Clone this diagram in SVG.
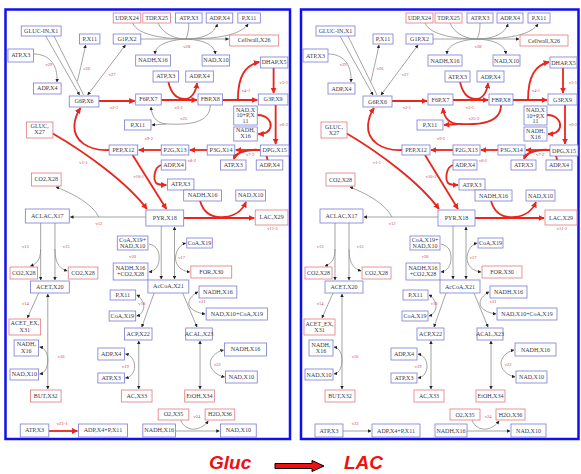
<svg xmlns="http://www.w3.org/2000/svg" width="581" height="474" viewBox="0 0 581 474">
<style>
.b{fill:#fff;stroke:#7b7bd6;stroke-width:0.8}
.r{fill:#fff;stroke:#e07a80;stroke-width:0.8}
.t{font-family:"Liberation Serif",serif;font-size:6px;fill:#3a3a4a;text-anchor:middle}
.lb{font-family:"Liberation Serif",serif;font-size:4.5px;fill:#d04050;text-anchor:middle}
.g{fill:none;stroke:#8e8e8e;stroke-width:0.8;marker-end:url(#ag)}
.gb{fill:none;stroke:#8e8e8e;stroke-width:0.8;marker-start:url(#ag);marker-end:url(#ag)}
.gn{fill:none;stroke:#8e8e8e;stroke-width:0.8}
.rd{fill:none;stroke:#e8261e;stroke-width:1.8;marker-end:url(#ar)}
.rn{fill:none;stroke:#e8261e;stroke-width:1.8}
.frame{fill:#fff;stroke:#1010f0;stroke-width:2.5}
.big{font-family:"Liberation Sans",Arial,sans-serif;font-size:19px;font-weight:bold;font-style:italic;fill:#f01010}
</style>
<defs>
<marker id="ag" viewBox="0 0 10 10" refX="9" refY="5" markerWidth="3.5" markerHeight="3.5" markerUnits="userSpaceOnUse" orient="auto-start-reverse"><path d="M0,0 L10,5 L0,10 z" fill="#222"/></marker>
<marker id="ar" viewBox="0 0 10 10" refX="9" refY="5" markerWidth="6" markerHeight="6" markerUnits="userSpaceOnUse" orient="auto-start-reverse"><path d="M0,0 L10,5 L0,10 z" fill="#e8261e"/></marker>
<g id="common-conn">
<!-- grey -->
<path class="g" d="M28,51 C42,51 52,60 51,79"/>
<path class="g" d="M40,33 L73,92"/>
<path class="gn" d="M48,33 L77,92"/>
<path class="g" d="M71,78 C74,65 77,52 79,42"/>
<path class="gb" d="M118,42 L81,92"/>
<path class="gn" d="M125,20 C130,33 160,36 177,36"/>
<path class="gn" d="M150,20 C155,32 168,36 177,36"/>
<path class="gn" d="M180,20 C180,30 178,34 177,36"/>
<path class="g" d="M177,36 C195,36 205,30 208,21"/>
<path class="g" d="M177,36 C215,36 232,30 238,21"/>
<path class="g" d="M133,36 L219,36"/>
<path class="g" d="M177,36 C160,37 147,42 147,51"/>
<path class="g" d="M177,36 C195,37 205,42 206,51"/>
<path class="g" d="M138,214 L64,214"/>
<path class="g" d="M92,214 C85,200 65,190 50,184"/>
<path class="g" d="M35,220 L35,277"/>
<path class="g" d="M35,246 C35,258 30,261 25,263"/>
<path class="g" d="M49,220 L49,277"/>
<path class="g" d="M49,246 C49,262 55,266 61,268"/>
<path class="g" d="M33,290 L22,315"/>
<path class="gb" d="M42,291 L42,386"/>
<path class="gb" d="M34,344 C40,345 42,352 42,357 C42,363 40,370 34,371"/>
<path class="g" d="M153,223 L153,276"/>
<path class="g" d="M141,241 C150,243 151,250 151,255 C151,262 148,268 141,269"/>
<path class="gb" d="M166,276 L166,224"/>
<path class="gb" d="M177,240 C170,242 167,250 167,255 C167,262 172,268 181,269"/>
<path class="g" d="M146,290 L134,324"/>
<path class="gb" d="M129,292 C133,294 136,300 136,303 C136,308 133,312 129,313"/>
<path class="g" d="M174,290 L188,324"/>
<path class="gb" d="M189,289 C183,292 180,297 180,300 C180,306 188,310 196,311"/>
<path class="gb" d="M131,338 L131,386"/>
<path class="gb" d="M118,351 C124,352 127,358 127,363 C127,369 124,374 118,375"/>
<path class="gb" d="M191,338 L191,386"/>
<path class="gb" d="M214,347 C205,349 201,356 201,360 C201,366 206,372 215,374"/>
<path class="g" d="M167,428 L210,428"/>
<path class="g" d="M172,417 C176,428 190,430 199,418"/>
<!-- red -->
<path class="rd" d="M46,130 C80,150 120,180 139,206"/>
<path class="rd" d="M102,147 C82,148 67,138 68,122 C69,112 72,108 74,105"/>
<path class="rd" d="M92,98 L127,98"/>
<path class="rd" d="M153,97 L188,97"/>
<path class="rd" d="M160,79 C163,92 170,96 176,96 C182,96 187,90 188,80"/>
<path class="rd" d="M213,97 L247,97"/>
<path class="rd" d="M228,97 C228,72 236,62 249,59"/>
<path class="rd" d="M263,65 L263,90"/>
<path class="rd" d="M265,102 L265,141"/>
<path class="rd" d="M247,112 C258,112 261,120 260,124 C259,129 254,131 248,131"/>
<path class="rd" d="M250,147 L226,147"/>
<path class="rd" d="M257,157 C256,148 250,146 242,147 C232,148 226,150 224,156"/>
<path class="rd" d="M198,147 L181,147"/>
<path class="rd" d="M153,147 L131,147"/>
<path class="rd" d="M125,152 L158,206"/>
<path class="rd" d="M153,162 C146,164 145,176 148,180 C150,182 154,182 158,182"/>
<path class="rd" d="M175,215 L244,215"/>
<path class="rd" d="M191,198 C195,212 205,215 215,214 C225,213 232,208 236,199"/>
<!-- labels -->
<text class="lb" x="43" y="63">v29</text>
<text class="lb" x="80" y="67">v26</text>
<text class="lb" x="105" y="73">v27</text>
<text class="lb" x="178" y="45">v28</text>
<text class="lb" x="107" y="106">v2-1</text>
<text class="lb" x="170" y="106">v3-1</text>
<text class="lb" x="236" y="89">v4-1</text>
<text class="lb" x="273" y="81">v5-1</text>
<text class="lb" x="273" y="123">v6-2</text>
<text class="lb" x="240" y="153">v7-2</text>
<text class="lb" x="183" y="159">v8-2</text>
<text class="lb" x="141" y="137">v9-2</text>
<text class="lb" x="131" y="175">v10-1</text>
<text class="lb" x="77" y="161">v1-1</text>
<text class="lb" x="262" y="227">v11-2</text>
<text class="lb" x="92" y="222">v12</text>
<text class="lb" x="20" y="245">v13</text>
<text class="lb" x="60" y="245">v15</text>
<text class="lb" x="20" y="302">v14</text>
<text class="lb" x="55" y="355">v16</text>
<text class="lb" x="125" y="255">v20</text>
<text class="lb" x="173" y="256">v17</text>
<text class="lb" x="134" y="302">v18</text>
<text class="lb" x="193" y="300">v21</text>
<text class="lb" x="118" y="365">v19</text>
<text class="lb" x="208" y="363">v22</text>
<text class="lb" x="188" y="415">v24</text>
</g>
<g id="common-nodes">
<g id="n-udp"><rect class="r" x="106" y="10" width="27" height="10"/><text class="t" x="119.5" y="17">UDP,X24</text></g>
<g id="n-tdp"><rect class="r" x="135" y="10" width="27" height="10"/><text class="t" x="148.5" y="17">TDP,X25</text></g>
<g id="n-atp1"><rect class="b" x="167" y="10" width="26" height="10"/><text class="t" x="180" y="17">ATP,X3</text></g>
<g id="n-adp1"><rect class="b" x="197" y="10" width="26" height="10"/><text class="t" x="210" y="17">ADP,X4</text></g>
<g id="n-p1"><rect class="b" x="228" y="10" width="22" height="10"/><text class="t" x="239" y="17">P,X11</text></g>
<g id="n-gluc"><rect class="b" x="16" y="23" width="39" height="10"/><text class="t" x="35.5" y="30">GLUC-IN,X1</text></g>
<g id="n-p2"><rect class="b" x="73" y="31" width="20" height="10"/><text class="t" x="83" y="38">P,X11</text></g>
<g id="n-g1p"><rect class="b" x="106" y="31" width="27" height="10"/><text class="t" x="119.5" y="38">G1P,X2</text></g>
<g id="n-cell"><rect class="r" x="220" y="32" width="48" height="11"/><text class="t" x="244" y="39.5">Cellwall,X26</text></g>
<g id="n-atp2"><rect class="b" x="3" y="46" width="25" height="13"/><text class="t" x="15.5" y="54.5">ATP,X3</text></g>
<g id="n-nadh1"><rect class="b" x="128" y="52" width="34" height="11"/><text class="t" x="145" y="59.5">NADH,X16</text></g>
<g id="n-nad1"><rect class="b" x="193" y="52" width="27" height="11"/><text class="t" x="206.5" y="59.5">NAD,X10</text></g>
<g id="n-dhap"><rect class="b" x="250" y="54" width="27" height="11"/><text class="t" x="263.5" y="61.5">DHAP,X5</text></g>
<g id="n-adp2"><rect class="b" x="28" y="80" width="27" height="11"/><text class="t" x="41.5" y="87.5">ADP,X4</text></g>
<g id="n-atp3"><rect class="b" x="145" y="68" width="25" height="11"/><text class="t" x="157.5" y="75.5">ATP,X3</text></g>
<g id="n-adp3"><rect class="b" x="177" y="68" width="27" height="11"/><text class="t" x="190.5" y="75.5">ADP,X4</text></g>
<g id="n-g6p"><rect class="b" x="63" y="93" width="29" height="11"/><text class="t" x="77.5" y="100.5">G6P,X6</text></g>
<g id="n-f6p"><rect class="b" x="128" y="91" width="25" height="11"/><text class="t" x="140.5" y="98.5">F6P,X7</text></g>
<g id="n-fbp"><rect class="b" x="189" y="91" width="24" height="11"/><text class="t" x="201" y="98.5">FBP,X8</text></g>
<g id="n-g3p"><rect class="b" x="248" y="91" width="29" height="11"/><text class="t" x="262.5" y="98.5">G3P,X9</text></g>
<g id="n-nadp"><rect class="b" x="224" y="103" width="23" height="19"/><text class="t" x="235.5" y="109">NAD,X<tspan x="235.5" y="114.5">10+P,X</tspan><tspan x="235.5" y="120">11</tspan></text></g>
<g id="n-nadh2"><rect class="b" x="224" y="124" width="23" height="14"/><text class="t" x="235.5" y="129.5">NADH,<tspan x="235.5" y="135.5">X16</tspan></text></g>
<g id="n-p3"><rect class="b" x="117" y="117" width="26" height="10"/><text class="t" x="130" y="124">P,X11</text></g>
<g id="n-glucx"><rect class="r" x="21" y="119" width="26" height="16"/><text class="t" x="34" y="125.5">GLUC,<tspan x="34" y="131.5">X27</tspan></text></g>
<g id="n-pep"><rect class="b" x="102" y="142" width="28" height="10"/><text class="t" x="116" y="149">PEP,X12</text></g>
<g id="n-p2g"><rect class="b" x="153" y="142" width="27" height="10"/><text class="t" x="166.5" y="149">P2G,X13</text></g>
<g id="n-p3g"><rect class="b" x="198" y="142" width="27" height="10"/><text class="t" x="211.5" y="149">P3G,X14</text></g>
<g id="n-dpg"><rect class="b" x="250" y="142" width="28" height="11"/><text class="t" x="264" y="149.5">DPG,X15</text></g>
<g id="n-adp4"><rect class="b" x="153" y="157" width="24" height="10"/><text class="t" x="165" y="164">ADP,X4</text></g>
<g id="n-atp4"><rect class="b" x="211" y="157" width="25" height="10"/><text class="t" x="223.5" y="164">ATP,X3</text></g>
<g id="n-adp5"><rect class="b" x="246" y="157" width="26" height="10"/><text class="t" x="259" y="164">ADP,X4</text></g>
<g id="n-atp5"><rect class="b" x="159" y="176" width="26" height="11"/><text class="t" x="172" y="183.5">ATP,X3</text></g>
<g id="n-nadh3"><rect class="b" x="175" y="187" width="37" height="11"/><text class="t" x="193.5" y="194.5">NADH,X16</text></g>
<g id="n-nad3"><rect class="b" x="226" y="187" width="29" height="11"/><text class="t" x="240.5" y="194.5">NAD,X10</text></g>
<g id="n-co2a"><rect class="r" x="26" y="170" width="29" height="13"/><text class="t" x="40.5" y="178.5">CO2,X28</text></g>
<g id="n-aclac"><rect class="b" x="20" y="206" width="43" height="14"/><text class="t" x="41.5" y="215">ACLAC,X17</text></g>
<g id="n-pyr"><rect class="b" x="138" y="207" width="37" height="16"/><text class="t" x="156.5" y="217">PYR,X18</text></g>
<g id="n-lac"><rect class="r" x="245" y="207" width="32" height="15"/><text class="t" x="261" y="216.5">LAC,X29</text></g>
<g id="n-coanad"><rect class="b" x="110" y="233" width="30" height="14"/><text class="t" x="125" y="238.8">CoA,X19+<tspan x="125" y="244.8">NAD,X10</tspan></text></g>
<g id="n-coa1"><rect class="b" x="178" y="235" width="25" height="10"/><text class="t" x="190.5" y="242">CoA,X19</text></g>
<g id="n-nadhco2"><rect class="b" x="106" y="260" width="34" height="17"/><text class="t" x="123" y="266.8">NADH,X16<tspan x="123" y="273.2">+CO2,X28</tspan></text></g>
<g id="n-for"><rect class="r" x="182" y="263" width="40" height="12"/><text class="t" x="202" y="271">FOR,X30</text></g>
<g id="n-co2b"><rect class="r" x="5" y="264" width="27" height="12"/><text class="t" x="18.5" y="272">CO2,X28</text></g>
<g id="n-co2c"><rect class="r" x="62" y="264" width="29" height="12"/><text class="t" x="76.5" y="272">CO2,X28</text></g>
<g id="n-acet"><rect class="b" x="25" y="278" width="38" height="12"/><text class="t" x="44" y="286">ACET,X20</text></g>
<g id="n-accoa"><rect class="b" x="140" y="277" width="40" height="13"/><text class="t" x="160" y="285.5">AcCoA,X21</text></g>
<g id="n-p4"><rect class="b" x="103" y="287" width="25" height="10"/><text class="t" x="115.5" y="294">P,X11</text></g>
<g id="n-nadh4"><rect class="b" x="190" y="283" width="37" height="12"/><text class="t" x="208.5" y="291">NADH,X16</text></g>
<g id="n-coa2"><rect class="b" x="102" y="308" width="26" height="10"/><text class="t" x="115" y="315">CoA,X19</text></g>
<g id="n-nadcoa"><rect class="b" x="197" y="305" width="60" height="12"/><text class="t" x="227" y="313">NAD,X10+CoA,X19</text></g>
<g id="n-acetex"><rect class="r" x="4" y="316" width="31" height="16"/><text class="t" x="19.5" y="322.5">ACET_EX,<tspan x="19.5" y="328.8">X31</tspan></text></g>
<g id="n-acp"><rect class="b" x="117" y="325" width="27" height="12"/><text class="t" x="130.5" y="333">ACP,X22</text></g>
<g id="n-acal"><rect class="b" x="177" y="325" width="26" height="12"/><text class="t" x="190" y="333">ACAL,X23</text></g>
<g id="n-nadh5"><rect class="b" x="9" y="337" width="24" height="16"/><text class="t" x="21" y="343.5">NADH,<tspan x="21" y="349.8">X16</tspan></text></g>
<g id="n-adp6"><rect class="b" x="91" y="345" width="26" height="12"/><text class="t" x="104" y="353">ADP,X4</text></g>
<g id="n-nadh6"><rect class="b" x="215" y="340" width="41" height="13"/><text class="t" x="235.5" y="348.5">NADH,X16</text></g>
<g id="n-nad4"><rect class="b" x="5" y="366" width="28" height="11"/><text class="t" x="19" y="373.5">NAD,X10</text></g>
<g id="n-atp6"><rect class="b" x="91" y="370" width="26" height="10"/><text class="t" x="104" y="377">ATP,X3</text></g>
<g id="n-nad5"><rect class="b" x="216" y="368" width="31" height="12"/><text class="t" x="231.5" y="376">NAD,X10</text></g>
<g id="n-but"><rect class="r" x="25" y="387" width="30" height="12"/><text class="t" x="40" y="395">BUT,X32</text></g>
<g id="n-ac"><rect class="r" x="114" y="387" width="30" height="12"/><text class="t" x="129" y="395">AC,X33</text></g>
<g id="n-etoh"><rect class="r" x="176" y="387" width="29" height="12"/><text class="t" x="190.5" y="395">EtOH,X34</text></g>
<g id="n-o2"><rect class="r" x="150" y="406" width="30" height="11"/><text class="t" x="165" y="413.5">O2,X35</text></g>
<g id="n-h2o"><rect class="r" x="196" y="406" width="29" height="11"/><text class="t" x="210.5" y="413.5">H2O,X36</text></g>
<g id="n-atp7"><rect class="b" x="15" y="421" width="28" height="13"/><text class="t" x="29" y="429.5">ATP,X3</text></g>
<g id="n-adpp"><rect class="b" x="72" y="421" width="48" height="13"/><text class="t" x="96" y="429.5">ADP,X4+P,X11</text></g>
<g id="n-nadh7"><rect class="b" x="135" y="421" width="32" height="13"/><text class="t" x="151" y="429.5">NADH,X16</text></g>
<g id="n-nad6"><rect class="b" x="211" y="421" width="35" height="13"/><text class="t" x="228.5" y="429.5">NAD,X10</text></g>
</g>
</defs>
<rect width="581" height="474" fill="#fff"/>
<rect class="frame" x="5.5" y="9.5" width="284.5" height="429.5"/>
<rect class="frame" x="301" y="9.5" width="277.5" height="429.5"/>
<g id="left-panel" transform="translate(4.9,3) scale(1.0217,1)">
<use href="#common-conn"/>
<g id="left-connectors">
<path class="g" d="M201,102 C201,120 180,122 160,121 C150,121 144,116 143,104"/>
<path class="g" d="M158,121 L144,122"/>
<text class="lb" x="175" y="117">v25</text>
<path class="rd" d="M43,428 L71,428"/>
<text class="lb" x="56" y="422">v23-1</text>
</g>
<use href="#common-nodes"/>
</g>
<g id="right-panel" transform="translate(300,3)">
<use href="#common-conn"/>
<g id="right-connectors">
<path class="rd" d="M201,102 C201,120 180,122 160,121 C150,121 144,116 143,105"/>
<path class="rd" d="M158,121 L144,122"/>
<text class="lb" x="174" y="117">v25-2</text>
<path class="g" d="M43,428 L71,428"/>
<text class="lb" x="55" y="422">v23</text>
</g>
<use href="#common-nodes"/>
</g>
<g id="legend">
<text class="big" x="209" y="469">Gluc</text>
<polygon points="275,463.5 312,463.5 312,460.5 324,466 312,471.5 312,468.5 275,468.5" fill="#f01010" stroke="#000" stroke-width="1"/>
<text class="big" x="344" y="469">LAC</text>
</g>
</svg>
